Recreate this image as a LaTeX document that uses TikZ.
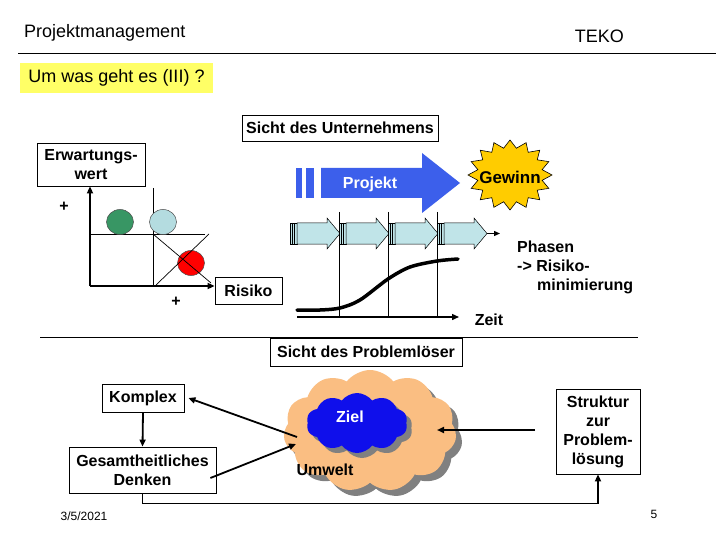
\documentclass[tikz,border=0pt]{standalone}
\usepackage{fontspec}
\setmainfont{Liberation Sans}
\usetikzlibrary{arrows.meta,shapes.symbols,shadows,calc}
\newcommand\lblfont{\fontsize{16}{19}\selectfont\bfseries}
\newcommand\hdrfont{\fontsize{18}{21}\selectfont}
\newcommand\smallfont{\fontsize{12}{14}\selectfont}
\definecolor{titleyellow}{RGB}{255,255,102}
\definecolor{projblue}{RGB}{60,95,235}
\definecolor{gold}{RGB}{255,204,0}
\definecolor{phase}{RGB}{192,228,232}
\definecolor{greenc}{RGB}{56,150,100}
\definecolor{lightc}{RGB}{180,220,224}
\definecolor{orangec}{RGB}{250,190,130}
\definecolor{bluec}{RGB}{15,15,235}
\definecolor{shgray}{RGB}{128,128,128}
\tikzset{
  box/.style={draw, line width=0.8pt, fill=white, inner sep=0pt, font=\lblfont, align=center},
  lbl/.style={font=\lblfont, inner sep=0pt, align=left},
  conn/.style={line width=1.8pt, -{Triangle[length=7pt,width=6pt]}},
  thinl/.style={line width=0.7pt},
  axis/.style={line width=2.2pt, -{Triangle[length=7pt,width=6pt]}},
  shadowed/.style={drop shadow={shadow xshift=6pt, shadow yshift=-6pt, fill=shgray, opacity=1}},
}
\begin{document}
\begin{tikzpicture}[x=1pt,y=-1pt]
\useasboundingbox (0,0) rectangle (720,540);
\fill[white] (0,0) rectangle (720,540);
% header
\node[anchor=west, font=\hdrfont, inner sep=0pt] (pm) at (24,33) {Projektmanagement};
\node[anchor=east, font=\hdrfont, inner sep=0pt] (teko) at (624,36) {TEKO};
\draw[line width=1pt] (18,54) -- (716,54);
\node[fill=titleyellow, minimum width=193pt, minimum height=30pt, inner sep=0pt, font=\hdrfont] (title) at (116.5,78) {Um was geht es (III) ?};

% upper part
\node[box, minimum width=196pt, minimum height=26pt] (su) at (340,128) {Sicht des Unternehmens};
\node[box, minimum width=108pt, minimum height=43pt] (erw) at (91,164.5) {Erwartungs-\\wert};
\node[box, minimum width=67pt, minimum height=27pt] (risiko) at (248.5,291) {Risiko};
\node[lbl] (plus1) at (64,207) {+};
\node[lbl] (plus2) at (176,302) {+};

% risk chart
\draw[thinl] (153,188) -- (153,286);
\draw[thinl] (90,234) -- (205,234);
\draw[fill=greenc, draw=black!70, line width=0.5pt] (120,222) ellipse [x radius=13.5, y radius=12.5];
\draw[fill=lightc, draw=black!70, line width=0.5pt] (163,222) ellipse [x radius=13.5, y radius=12.5];
\draw[fill=red, draw=black!70, line width=0.5pt] (191,263) ellipse [x radius=13.5, y radius=12.5];
\draw[thinl] (153,234) -- (211,283);
\draw[thinl] (156,285) -- (209,234);
\coordinate (o) at (90,286);
\draw[axis] (o) -- (erw.south -| o);
\draw[axis] (o) -- (risiko.west |- o);

% Projekt arrow
\fill[projblue] (296,168) rectangle (302,198);
\fill[projblue] (306,168) rectangle (314,198);
\fill[projblue] (321,168) -- (422,168) -- (422,153) -- (460,183) -- (422,213) -- (422,198) -- (321,198) -- cycle;
\node[font=\lblfont, text=white, inner sep=0pt] (projekt) at (370,184) {Projekt};

% Gewinn starburst
\draw[fill=gold, draw=black, line width=0.6pt]
  plot[samples at={0,11.25,...,349}, variable=\t]
  ({510+42*(1-0.22*mod(round(\t/11.25),2))*cos(\t)},{175+35*(1-0.22*mod(round(\t/11.25),2))*sin(\t)}) -- cycle;
\node[font=\fontsize{17}{20}\selectfont\bfseries, inner sep=0pt] (gewinn) at (510,177) {Gewinn};

% phase lines
\foreach \xx in {339,388,437}{
  \draw[thinl] (\xx,212) -- (\xx,317);
}
% phase arrows
\foreach \xx in {290,339,388,437}{
  \draw[fill=phase, line width=0.5pt] (\xx,223) rectangle (\xx+7,244);
  \draw[line width=0.5pt] (\xx+2.5,223) -- (\xx+2.5,244) (\xx+4.5,223) -- (\xx+4.5,244);
  \draw[fill=phase, line width=0.5pt] (\xx+7,223) -- (\xx+37,223) -- (\xx+37,218) -- (\xx+50,233.5) -- (\xx+37,249) -- (\xx+37,244) -- (\xx+7,244) -- cycle;
}
\coordinate (pa1) at (487,233.5);
\coordinate (pa2) at (500,233.5);
\draw[line width=1.2pt, -{Triangle[length=6pt,width=5pt]}] (pa1) -- (pa2);

% time axis and S-curve
\coordinate (t0) at (297,317);
\coordinate (t1) at (459,317);
\draw[line width=1.4pt, -{Triangle[length=7pt,width=6pt]}] (t0) -- (t1);
\draw[line width=3.5pt, line cap=round] plot[smooth] coordinates {(297,310) (320,310) (340,308) (360,300) (388,279) (410,267) (437,261) (458,259)};
\node[lbl] (zeit) at (489,320) {Zeit};
\node[lbl, anchor=west] (phasen) at (517,267) {Phasen\\-> Risiko-\\\hspace*{20pt}minimierung};

% separator
\draw[line width=0.8pt] (40,337) -- (638,337);
\node[box, minimum width=192pt, minimum height=28pt] (sp) at (366,352) {Sicht des Problemlöser};

% clouds
\node[cloud, cloud puffs=11, cloud puff arc=105, cloud ignores aspect, minimum width=173pt, minimum height=122pt, fill=orangec, shadowed] (umweltcloud) at (370,431) {};
\node[cloud, cloud puffs=10, cloud puff arc=105, cloud ignores aspect, minimum width=101pt, minimum height=60pt, fill=bluec, drop shadow={shadow xshift=5pt, shadow yshift=-5pt, fill=shgray, opacity=1}] (zielcloud) at (357,423) {};
\node[font=\lblfont, text=white, inner sep=0pt] (ziel) at (350,417) {Ziel};
\node[lbl] (umwelt) at (325,470) {Umwelt};

% lower boxes
\node[box, minimum width=82pt, minimum height=28pt] (komplex) at (143,398) {Komplex};
\node[box, minimum width=147pt, minimum height=46pt] (gesamt) at (142.5,470) {Gesamtheitliches\\Denken};
\node[box, minimum width=84pt, minimum height=85pt] (struktur) at (598,431.5) {Struktur\\zur\\Problem-\\lösung};

% connectors
\coordinate (cl1) at (297,437);
\coordinate (cl2) at (296,444);
\coordinate (cr) at (437,430);
\coordinate (rtail) at (535,430);
\draw[conn] (cl1) -- ([xshift=4pt]komplex.east);
\draw[conn] ($(gesamt.east)+(-6,8)$) -- (cl2);
\draw[conn] (rtail) -- (cr);
\draw[conn] (komplex.south) -- (gesamt.north);
\draw[conn] (gesamt.south) -- ++(0,10) -| (struktur.south);

% footer
\node[font=\smallfont, inner sep=0pt] (date) at (84,516) {3/5/2021};
\node[font=\smallfont, inner sep=0pt] (page) at (654,514) {5};
\end{tikzpicture}
\end{document}
